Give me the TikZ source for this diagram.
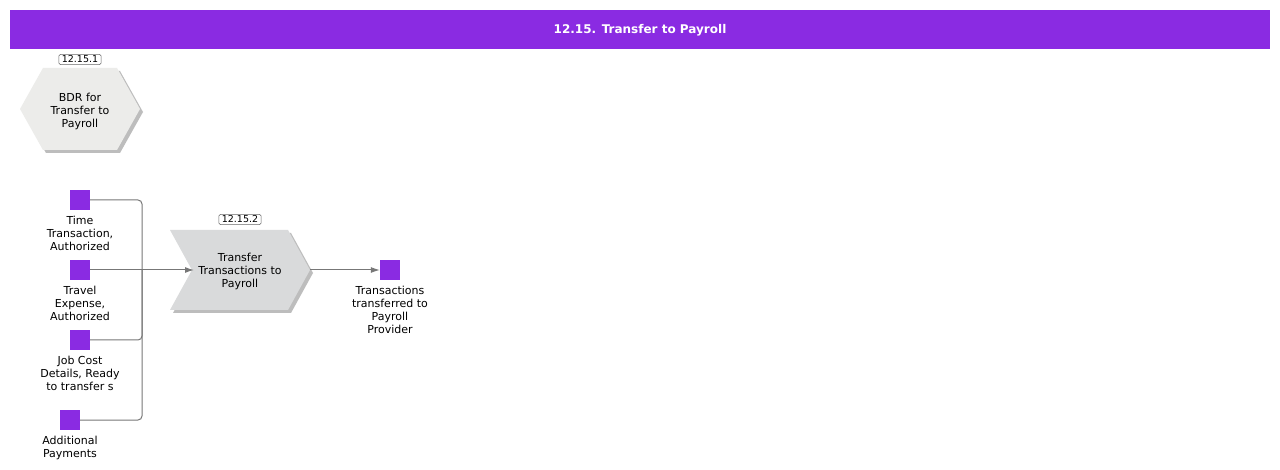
\documentclass[tikz,border=0pt]{standalone}
\usepackage{fontspec}
\setmainfont{DejaVu Sans}
\usetikzlibrary{arrows.meta,shapes.geometric}
\definecolor{epcpurple}{HTML}{8A2BE2}
\definecolor{linegray}{HTML}{777777}
\definecolor{hexfill}{HTML}{ECECEA}
\definecolor{chevfill}{HTML}{D9DADB}
\definecolor{shadowgray}{HTML}{BDBDBD}
\tikzset{
  lbl/.style={align=center, font=\fontsize{11}{13}\selectfont, inner sep=0pt, text=black},
  idbox/.style={draw=black!60, rounded corners=1.5pt, fill=white, font=\fontsize{9.5}{11}\selectfont, inner xsep=3pt, inner ysep=1.5pt, line width=0.5pt},
  evt/.style={fill=epcpurple, minimum size=20pt, inner sep=0pt},
  conn/.style={draw=linegray, line width=1pt, rounded corners=4pt},
  arr/.style={conn, -{Latex[length=9pt,width=6pt]}},
}
\begin{document}
\begin{tikzpicture}[x=1pt,y=-1pt]
\useasboundingbox (0,0) rectangle (1280,470);
\fill[white] (0,0) rectangle (1280,470);
% title
\fill[epcpurple] (10,10) rectangle (1270,49);
\node[font=\fontsize{12}{14}\selectfont\bfseries, text=white] (title) at (640,30) {12.15. Transfer to Payroll};
% hexagon BDR
\fill[shadowgray] (23,112) -- (46,71) -- (120,71) -- (143,112) -- (120,153) -- (46,153) -- cycle;
\fill[hexfill] (20,109) -- (43,68) -- (117,68) -- (140,109) -- (117,150) -- (43,150) -- cycle;
\node[lbl] (bdr) at (80,111) {BDR for\\Transfer to\\Payroll};
\node[idbox] (id1) at (80,59.5) {12.15.1};
% chevron function
\fill[shadowgray] (173,233) -- (291,233) -- (313,273) -- (291,313) -- (173,313) -- (195,273) -- cycle;
\fill[chevfill] (170,230) -- (288,230) -- (310,270) -- (288,310) -- (170,310) -- (192,270) -- cycle;
\coordinate (fin) at (194,270);
\coordinate (fout) at (310,270);
\node[lbl] (func) at (240,271) {Transfer\\Transactions to\\Payroll};
\node[idbox] (id2) at (240,219.5) {12.15.2};
% events
\node[evt] (e1) at (80,200) {};
\node[lbl, anchor=north] (l1) at (80,215.5) {Time\\Transaction,\\Authorized};
\node[evt] (e2) at (80,270) {};
\node[lbl, anchor=north] (l2) at (80,285.5) {Travel\\Expense,\\Authorized};
\node[evt] (e3) at (80,340) {};
\node[lbl, anchor=north] (l3) at (80,355.5) {Job Cost\\Details, Ready\\to transfer s};
\node[evt] (e4) at (70,420) {};
\node[lbl, anchor=north] (l4) at (70,435.5) {Additional\\Payments};
\node[evt] (e5) at (390,270) {};
\node[lbl, anchor=north] (l5) at (390,285.5) {Transactions\\transferred to\\Payroll\\Provider};
% connectors
\coordinate (j) at (142,270);
\draw[conn] (e1.east) -- (142,200) -- (j);
\draw[conn] (e3.east) -- (142,340) -- (j);
\draw[conn] (e4.east) -- (142,420) -- (j);
\draw[conn] (e2.east) -- (j);
\draw[arr] (j) -- (fin);
\draw[arr] (fout) -- (e5.west);
\end{tikzpicture}
\end{document}
